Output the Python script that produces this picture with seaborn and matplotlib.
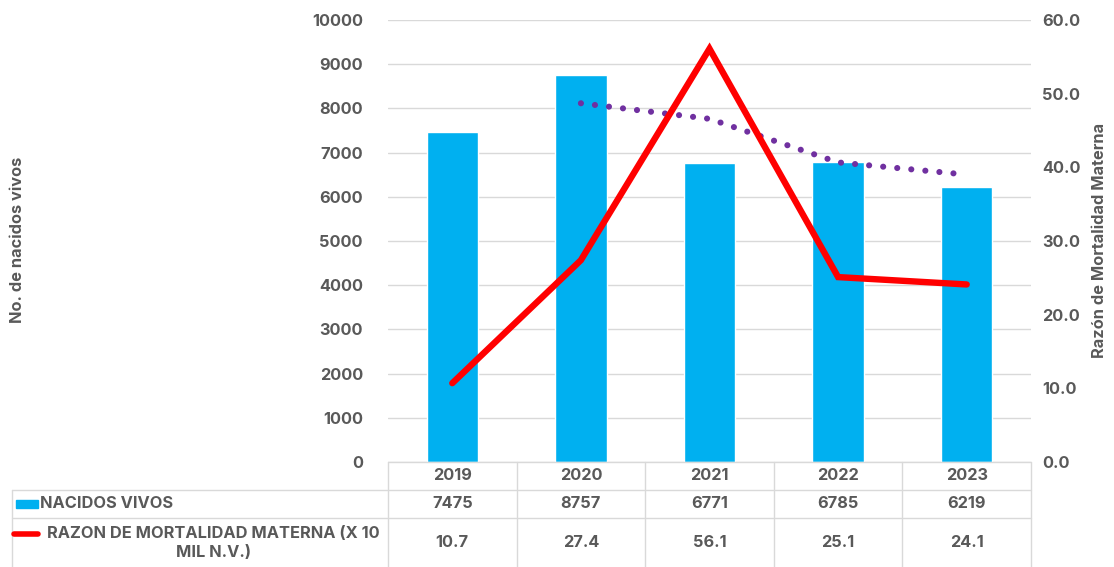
import numpy as np
import pandas as pd
import matplotlib
matplotlib.use("Agg")
import matplotlib.pyplot as plt
from matplotlib.lines import Line2D
from matplotlib.patches import Rectangle
import seaborn as sns

# Data
years = ["2019", "2020", "2021", "2022", "2023"]
nacidos_vivos = [7475, 8757, 6771, 6785, 6219]
razon_mm = [10.7, 27.4, 56.1, 25.1, 24.1]

label_nacidos = "NACIDOS VIVOS"
label_razon = "RAZON DE MORTALIDAD MATERNA (X 10\nMIL N.V.)"
ylabel_left = "No. de nacidos vivos"
ylabel_right = "Razón de Mortalidad Materna"
left_ticks = list(range(0, 10001, 1000))
right_ticks = [0, 10, 20, 30, 40, 50, 60]

BLUE = "#00B0F0"
RED = "#FF0000"
PURPLE = "#7030A0"
TXT = "#595959"
GRID = "#D9D9D9"

sns.set_theme(style="white")
plt.rcParams["font.family"] = ["Inter", "DejaVu Sans"]

W, H = 1114, 567
fig = plt.figure(figsize=(W / 100, H / 100), dpi=100)

# plot area in pixel coordinates
x0, x1 = 388, 1031
yt, yb = 20, 462


def fx(px):
    return px / W


def fy(py):
    return 1 - py / H


ax = fig.add_axes([fx(x0), fy(yb), fx(x1) - fx(x0), fy(yt) - fy(yb)])
df = pd.DataFrame({"year": years, "nacidos": nacidos_vivos, "razon": razon_mm})
sns.barplot(data=df, x="year", y="nacidos", color=BLUE, width=0.4,
            saturation=1, ax=ax, zorder=2)
ax.set_xlim(-0.5, len(years) - 0.5)
ax.set_ylim(0, 10000)
ax.set_yticks(left_ticks)
ax.set_yticklabels([str(v) for v in left_ticks])
ax.set_xticks([])
ax.set_xlabel("")
ax.set_ylabel("")
ax.grid(axis="y", color=GRID, linewidth=1, zorder=0)
ax.set_axisbelow(True)
for s in ax.spines.values():
    s.set_visible(False)
ax.tick_params(axis="y", length=0, pad=18, labelsize=11.8, labelcolor=TXT)
for t in ax.get_yticklabels():
    t.set_fontweight("bold")

# two-period moving average of births (trend)
pos = np.arange(len(years))
trend = df["nacidos"].rolling(2).mean()
ax.plot(pos, trend, color=PURPLE, linewidth=4.4,
        linestyle=(0, (0.01, 2.3)), dash_capstyle="round", zorder=3)

ax2 = ax.twinx()
sns.lineplot(x=pos, y=df["razon"], color=RED, linewidth=4.6, ax=ax2, zorder=4,
             solid_joinstyle="miter")
ax2.set_ylim(0, 60)
ax2.set_yticks(right_ticks)
ax2.set_yticklabels([f"{v:.1f}" for v in right_ticks])
ax2.set_ylabel("")
for s in ax2.spines.values():
    s.set_visible(False)
ax2.tick_params(axis="y", length=0, pad=8, labelsize=11.8, labelcolor=TXT)
for t in ax2.get_yticklabels():
    t.set_fontweight("bold")

# axis titles
fig.text(fx(18), fy(240), ylabel_left, rotation=90, ha="center", va="center",
         fontsize=11.8, fontweight="bold", color=TXT)
fig.text(fx(1100), fy(240), ylabel_right, rotation=90, ha="center", va="center",
         fontsize=11.8, fontweight="bold", color=TXT)

# data table under the chart
cw = (x1 - x0) / len(years)
rows = [462, 490, 518, 567]
left_col = 12
tcol = GRID


def hline(y, xa, xb):
    fig.add_artist(Line2D([fx(xa), fx(xb)], [fy(y), fy(y)], color=tcol, lw=1))


def vline(x, ya, yb_):
    fig.add_artist(Line2D([fx(x), fx(x)], [fy(ya), fy(yb_)], color=tcol, lw=1))


hline(rows[0], x0, x1)
hline(rows[1], left_col, x1)
hline(rows[2], left_col, x1)
vline(left_col, rows[1], rows[3])
for i in range(len(years) + 1):
    vline(x0 + i * cw, rows[0], rows[3])

fs = 11.8
for i, yr in enumerate(years):
    cx = x0 + (i + 0.5) * cw
    fig.text(fx(cx), fy((rows[0] + rows[1]) / 2), yr, ha="center", va="center",
             fontsize=fs, fontweight="bold", color=TXT)
    fig.text(fx(cx), fy((rows[1] + rows[2]) / 2), str(nacidos_vivos[i]),
             ha="center", va="center", fontsize=fs, fontweight="bold", color=TXT)
    fig.text(fx(cx), fy((rows[2] + rows[3]) / 2), f"{razon_mm[i]:.1f}",
             ha="center", va="center", fontsize=fs, fontweight="bold", color=TXT)

# legend keys inside the table
fig.add_artist(Rectangle((fx(16), fy(508)), fx(38) - fx(16), fy(500) - fy(508),
                         color=BLUE, transform=fig.transFigure))
fig.text(fx(40), fy(504), label_nacidos, ha="left", va="center",
         fontsize=fs, fontweight="bold", color=TXT)
fig.add_artist(Line2D([fx(14), fx(38)], [fy(534), fy(534)], color=RED, lw=4,
                      solid_capstyle="round"))
fig.text(fx(213), fy(543), label_razon, ha="center", va="center",
         fontsize=fs, fontweight="bold", color=TXT, linespacing=1.3,
         multialignment="center")

fig.savefig("out.png", dpi=100)
